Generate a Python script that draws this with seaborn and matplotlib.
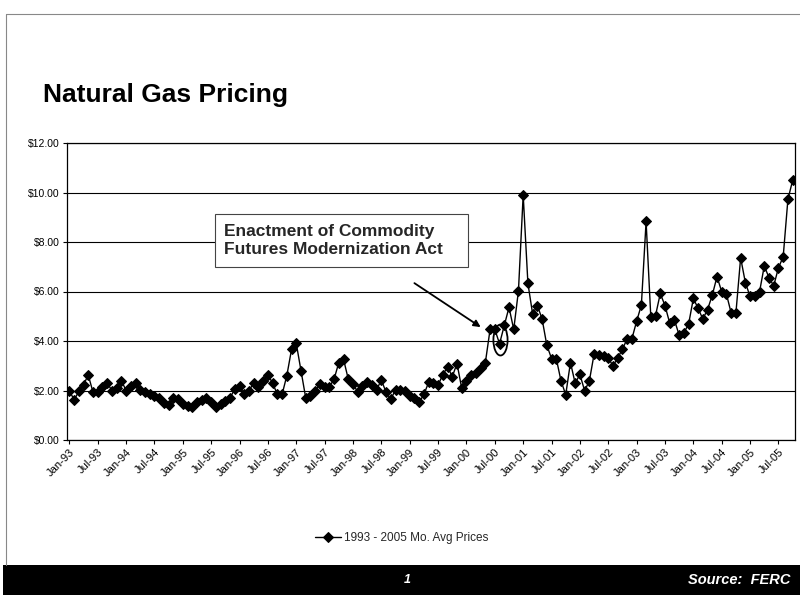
import matplotlib
matplotlib.use("Agg")
import matplotlib.pyplot as plt
import seaborn as sns
import pandas as pd
import numpy as np
from matplotlib.patches import Ellipse, Rectangle

# ---- data (monthly average prices, Jan-93 .. Oct-05) ----
prices_1993_1994 = [2.00, 1.62, 1.96, 2.24, 2.62, 1.93, 1.93, 2.15, 2.30, 2.00, 2.10, 2.40,
                    2.00, 2.20, 2.30, 2.04, 1.93, 1.84, 1.77, 1.70, 1.48, 1.40, 1.70, 1.64]
prices_1995_1996 = [1.44, 1.38, 1.35, 1.53, 1.62, 1.70, 1.53, 1.35, 1.44, 1.58, 1.70, 2.07,
                    2.20, 1.84, 2.00, 2.30, 2.15, 2.37, 2.63, 2.30, 1.84, 1.84, 2.60, 3.66]
prices_1997_1998 = [3.90, 2.80, 1.70, 1.77, 1.97, 2.28, 2.15, 2.15, 2.46, 3.13, 3.26, 2.46,
                    2.28, 1.93, 2.17, 2.33, 2.24, 2.04, 2.42, 1.93, 1.64, 2.04, 2.04, 2.00]
prices_1999_2000 = [1.77, 1.70, 1.53, 1.84, 2.33, 2.29, 2.23, 2.63, 2.96, 2.56, 3.09, 2.09,
                    2.39, 2.63, 2.69, 2.89, 3.13, 4.47, 4.47, 3.89, 4.63, 5.36, 4.47, 6.03]
prices_2001_2002 = [9.90, 6.33, 5.09, 5.43, 4.89, 3.83, 3.29, 3.29, 2.39, 1.83, 3.13, 2.29,
                    2.65, 1.99, 2.39, 3.47, 3.43, 3.40, 3.32, 2.99, 3.32, 3.67, 4.09, 4.09]
prices_2003_2004 = [4.80, 5.45, 8.83, 4.96, 5.03, 5.92, 5.43, 4.72, 4.85, 4.23, 4.33, 4.69,
                    5.72, 5.32, 4.89, 5.27, 5.85, 6.60, 5.99, 5.89, 5.13, 5.13, 7.36, 6.36]
prices_2005 = [5.80, 5.80, 5.99, 7.03, 6.56, 6.23, 6.96, 7.40, 9.72, 10.49]

tick_labels = ["Jan-93", "Jul-93", "Jan-94", "Jul-94", "Jan-95", "Jul-95", "Jan-96", "Jul-96",
               "Jan-97", "Jul-97", "Jan-98", "Jul-98", "Jan-99", "Jul-99", "Jan-00", "Jul-00",
               "Jan-01", "Jul-01", "Jan-02", "Jul-02", "Jan-03", "Jul-03", "Jan-04", "Jul-04",
               "Jan-05", "Jul-05"]
y_ticks = [0, 2, 4, 6, 8, 10, 12]
series_name = "1993 - 2005 Mo. Avg Prices"
annotation_text = "Enactment of Commodity\nFutures Modernization Act"
annotated_month = 91  # Aug-00

prices = (prices_1993_1994 + prices_1995_1996 + prices_1997_1998 + prices_1999_2000
          + prices_2001_2002 + prices_2003_2004 + prices_2005)
df = pd.DataFrame({"month": np.arange(len(prices)), "price": prices, "series": series_name})

sns.set_theme(style="white")
plt.rcParams["font.family"] = ["Liberation Sans", "DejaVu Sans"]
narrow = ["Liberation Sans Narrow", "Liberation Sans"]

fig = plt.figure(figsize=(8.0, 5.95), dpi=100)
fig.patch.set_facecolor("white")

ax = fig.add_axes([67/800, 1-440/595, (795-67)/800, (440-143)/595])
sns.lineplot(data=df, x="month", y="price", hue="series", palette=["black"],
             marker="D", markersize=5.5, markeredgecolor="black", linewidth=1.0,
             ax=ax)

n = len(prices)
ax.set_xlim(-0.5, n - 0.5)
ax.set_ylim(0, 12)
ax.set_yticks(y_ticks)
ax.set_yticklabels([f"${v:.2f}" for v in y_ticks], fontsize=7.5, family=narrow)
ax.set_xticks([6 * k for k in range(len(tick_labels))])
ax.set_xticklabels(tick_labels, rotation=45, ha="right", rotation_mode="anchor",
                   fontsize=8, family=narrow)
ax.set_xlabel("")
ax.set_ylabel("")
ax.grid(axis="y", color="black", linewidth=0.8)
ax.grid(axis="x", visible=False)
for s in ax.spines.values():
    s.set_color("black")
    s.set_linewidth(0.9)
ax.tick_params(axis="both", which="major", direction="out", length=3, width=0.8,
               color="black", labelcolor="black", left=True, bottom=True, pad=2)

# legend below the plot
leg = ax.legend(loc="center", bbox_to_anchor=(0.46, -0.33), frameon=False,
                prop={"size": 8.5, "family": narrow},
                handlelength=2.2, handletextpad=0.3)

# annotation: box + arrow + ellipse
ax.annotate("", xy=(87.5, 4.5), xytext=(72.5, 6.4),
            arrowprops=dict(arrowstyle="-|>", color="black", lw=1.3, mutation_scale=10))
ax.add_patch(Rectangle((30.8, 7.0), 53.5, 2.13, facecolor="white", edgecolor="#444444",
                       linewidth=0.8, zorder=4))
ax.text(32.8, 8.06, annotation_text, fontsize=12.5, fontweight="bold", va="center",
        ha="left", linespacing=1.2, zorder=5)
ax.add_patch(Ellipse((annotated_month + 0.2, prices[annotated_month] + 0.15),
                     width=3.0, height=1.25, fill=False, edgecolor="black", linewidth=1.3))

# slide decoration
fig.text(43/800, 1-95/595, "Natural Gas Pricing", fontsize=19, fontweight="bold",
         ha="left", va="center", color="black")
fig.add_artist(Rectangle((3/800, 0), 797/800, 30/595, transform=fig.transFigure,
                         facecolor="black", edgecolor="none"))
fig.text(407/800, 15/595, "1", color="white", fontsize=9, fontweight="bold",
         fontstyle="italic", ha="center", va="center")
fig.text(790/800, 15/595, "Source:  FERC", color="white", fontsize=10.5, fontweight="bold",
         fontstyle="italic", ha="right", va="center")
fig.add_artist(plt.Line2D([6/800, 1], [1-14/595, 1-14/595], transform=fig.transFigure,
                          color="#888888", linewidth=0.8))
fig.add_artist(plt.Line2D([6/800, 6/800], [30/595, 1-14/595], transform=fig.transFigure,
                          color="#888888", linewidth=0.8))

fig.savefig("out.png", dpi=100, facecolor="white")
